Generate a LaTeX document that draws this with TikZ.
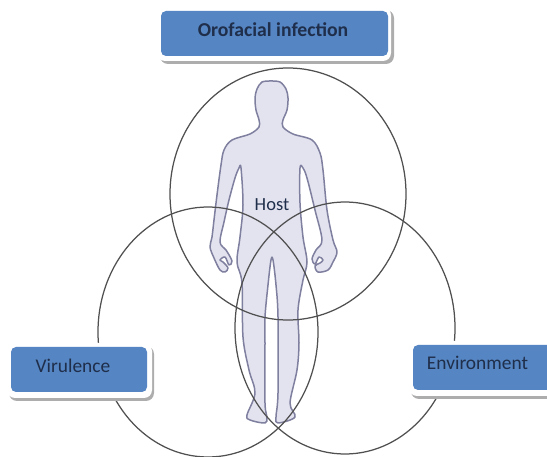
\documentclass[tikz,border=0pt]{standalone}
\usepackage{fontspec}
\setmainfont{Carlito}
\definecolor{boxblue}{HTML}{5585C2}
\definecolor{boxtext}{HTML}{1F2E4A}
\definecolor{ringc}{HTML}{505050}
\definecolor{bodyfill}{HTML}{E3E3F0}
\definecolor{bodyline}{HTML}{7F7F9F}
\tikzset{
  ring/.style={draw=ringc,line width=1.25pt},
  labelbox/.style={draw=none,fill=boxblue,rounded corners=5pt,inner sep=0pt,anchor=center},
  whitebox/.style={fill=white,rounded corners=8pt},
  shadowbox/.style={fill=black!32,rounded corners=8pt},
  boxlabel/.style={text=boxtext,font=\fontsize{19.4}{22}\selectfont}
}
\begin{document}
\begin{tikzpicture}[x=1pt,y=-1pt]
\useasboundingbox (0,0) rectangle (547,457);
\begin{scope}
\clip (0,0) rectangle (547,457);
% body
\draw[fill=bodyfill,draw=bodyline,line width=1.5pt,line join=round]
 plot[smooth,tension=0.55] coordinates {
 (271,81) (262,82) (257,89) (255,98) (256,110) (259,120) (259,127) (250,134) (232,140) (224,150) (221,165)
 (217,195) (214,220) (212,237) (210,247) (214,258) (220,270) (225,272) (228,268) (223,262) (220,260) (225,257) (229,265) (232,261) (226,250) (220,242)
 (224,222) (229,200) (235,178) (239,168) (241,168) (243,205) (240,237) (237,262) (242,283) (243,337) (249,370) (255,393)
 (247,415) (250,420) (265,423) (267,417) (265,403) (265,343) (265,317) (268,285) (271,260)
 (273,260) (276,285) (278,317) (278,393) (276,417) (278,423) (295,417) (290,403) (297,370) (299,343) (298,310) (303,280) (307,262)
 (303,237) (300,203) (300,168) (303,168) (307,178) (315,210) (322,240) (316,250) (312,259) (315,264) (319,257) (323,260) (320,263) (315,266) (318,272) (328,270) (333,262) (337,252) (333,240) (327,210) (323,170) (320,153) (312,140) (293,134) (283,127) (283,120) (287,110) (288,98) (286,89) (280,82) (271,81)
 } -- cycle;
% circles
\draw[ring] (288,194) ellipse [x radius=118,y radius=126];
\draw[ring] (208,332) ellipse [x radius=110,y radius=125];
\draw[ring] (345,328) ellipse [x radius=110,y radius=126];
\end{scope}
\node[font=\fontsize{18.5}{20}\selectfont,text=boxtext] (host) at (272,205) {Host};
% boxes
\begin{scope}
\clip (0,0) rectangle (547,457);
\fill[shadowbox] (160,10) rectangle (394,64);
\fill[whitebox] (157,7) rectangle (391,61);
\fill[shadowbox] (9,346) rectangle (154,401);
\fill[whitebox] (7,343) rectangle (152,398);
\fill[shadowbox] (411,344) rectangle (570,399);
\fill[whitebox] (409,341) rectangle (570,396);
\node[labelbox,minimum width=227pt,minimum height=45pt] (oro) at (274.5,33.5) {};
\node[labelbox,minimum width=136pt,minimum height=45pt] (vir) at (79,369.5) {};
\node[labelbox,minimum width=150pt,minimum height=45pt] (env) at (488,367.5) {};
\end{scope}
\node[boxlabel,font=\bfseries\fontsize{19.7}{22}\selectfont] (orot) at (273,30) {Orofacial infection};
\node[boxlabel] (virt) at (73,366) {Virulence};
\node[boxlabel] (envt) at (477.5,363) {Environment};
\end{tikzpicture}
\end{document}
